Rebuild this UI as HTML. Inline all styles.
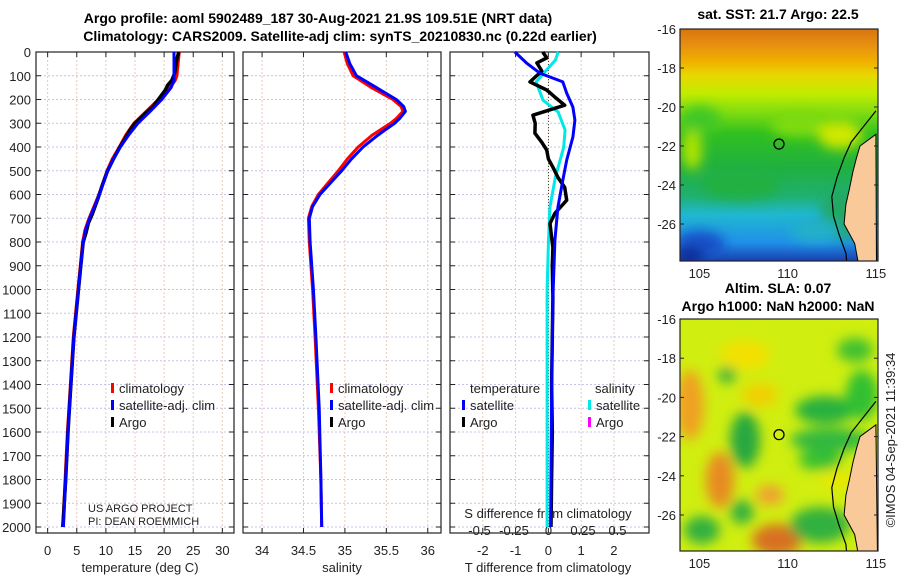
<!DOCTYPE html>
<html><head><meta charset="utf-8"><style>
body{margin:0;background:#fff}
svg{display:block;font-family:"Liberation Sans","DejaVu Sans",sans-serif}
</style></head><body>
<svg id="c" width="900" height="580" viewBox="0 0 900 580">
<defs>
<filter id="bl" x="-50%" y="-50%" width="200%" height="200%"><feGaussianBlur stdDeviation="6"/></filter>
<clipPath id="cm1"><rect x="680" y="29" width="198" height="232"/></clipPath>
<clipPath id="cm2"><rect x="680" y="319" width="198" height="232"/></clipPath>
<linearGradient id="sst" x1="0" y1="0" x2="0" y2="1">
<stop offset="0" stop-color="#d87410"/><stop offset="0.07" stop-color="#e89010"/><stop offset="0.14" stop-color="#f0b000"/><stop offset="0.2" stop-color="#e8d800"/><stop offset="0.28" stop-color="#c0ec00"/><stop offset="0.36" stop-color="#80dc10"/><stop offset="0.45" stop-color="#30c020"/><stop offset="0.6" stop-color="#20b040"/><stop offset="0.72" stop-color="#20b070"/><stop offset="0.8" stop-color="#20b8d0"/><stop offset="0.92" stop-color="#2090e8"/><stop offset="1" stop-color="#1840b0"/>
</linearGradient>
</defs>
<text x="318" y="23" text-anchor="middle" font-size="14" font-weight="bold">Argo profile: aoml 5902489_187 30-Aug-2021 21.9S 109.51E (NRT data)</text>
<text x="340" y="41" text-anchor="middle" font-size="14" font-weight="bold">Climatology: CARS2009. Satellite-adj clim: synTS_20210830.nc (0.22d earlier)</text>
<g id="g"></g>
</svg>
<script>
// ---- data ----
const depthT = [0,50,100,120,150,200,250,300,350,400,450,500,600,700,750,800,900,1000,1200,1400,1600,1800,2000];
const tempClim = [22.6,22.4,22.2,21.9,21.0,19.0,16.9,14.8,13.4,12.3,11.1,10.2,8.8,7.1,6.4,6.0,5.6,5.2,4.4,3.9,3.4,3.0,2.6];
const tempSat  = [21.7,21.7,21.7,21.7,21.2,19.6,17.6,15.5,13.9,12.5,11.3,10.3,8.9,7.2,6.5,6.1,5.7,5.3,4.5,4.0,3.5,3.1,2.7];
const depthA = [0,30,60,90,120,140,160,200,230,260,280,300,330,360,400,450,500,560,620,680,720,760,800,900,1000,1200,1400,1600,1800,2000];
const tempArgo = [22.5,22.2,22.0,21.8,21.3,20.6,20.2,19.0,18.1,16.7,15.9,15.0,14.1,13.4,12.4,11.3,10.3,9.4,8.6,7.7,7.0,6.6,6.1,5.7,5.3,4.5,4.0,3.5,3.1,2.6];
const depthS = [0,50,100,150,200,230,250,280,300,350,400,450,500,550,600,650,700,800,1000,1200,1500,1800,2000];
const salClim = [34.99,35.03,35.1,35.32,35.58,35.68,35.7,35.62,35.55,35.33,35.16,35.03,34.92,34.8,34.68,34.6,34.56,34.57,34.61,34.64,34.68,34.71,34.72];
const salSat  = [35.01,35.06,35.14,35.38,35.62,35.71,35.73,35.66,35.6,35.4,35.22,35.08,34.96,34.83,34.7,34.61,34.57,34.58,34.62,34.65,34.69,34.71,34.72];
const depthD = [0,46,89,126,173,232,287,358,455,540,654,793,1034,1300,1600,2000];
const dTsat = [-1.02,-0.67,-0.26,0.44,0.56,0.75,0.81,0.75,0.56,0.44,0.29,0.2,0.14,0.11,0.09,0.07];
const depthDA = [0,25,46,80,126,160,190,224,266,300,342,380,413,450,485,530,570,624,679,722,780,823,900,1034,1200,1400,1600,1800,2000];
const dTargo = [-0.17,-0.05,-0.35,-0.2,-0.56,-0.05,0.2,0.5,-0.47,-0.4,-0.41,-0.2,-0.05,0.0,0.14,0.3,0.5,0.56,0.2,0.05,0.1,0.14,0.12,0.14,0.12,0.1,0.12,0.1,0.08];
const depthDS = [0,34,80,126,203,253,329,401,527,654,793,1000,1500,2000];
const dSsat = [0.07,0.05,-0.02,-0.09,-0.04,0.07,0.12,0.11,0.05,0.01,0.0,-0.01,-0.01,-0.01];
const depthTicks = [0,100,200,300,400,500,600,700,800,900,1000,1100,1200,1300,1400,1500,1600,1700,1800,1900,2000];
const tTicks = [0,5,10,15,20,25,30];
const sTicks = [34,34.5,35,35.5,36];
const sTickLabels = ["34","34.5","35","35.5","36"];
const dTTicks = [-2,-1,0,1,2];
const dSTicks = [-0.5,-0.25,0,0.25,0.5];
const lonTicks = [105,110,115];
const latTicks = [-16,-18,-20,-22,-24,-26];

const NS="http://www.w3.org/2000/svg";
const G=document.getElementById('g');
function el(t,a,p){const e=document.createElementNS(NS,t);for(const k in a)e.setAttribute(k,a[k]);(p||G).appendChild(e);return e;}
function tx(x,y,s,a,p){const e=el('text',Object.assign({x:x,y:y,'font-size':13,fill:'#222'},a||{}),p);e.textContent=s;return e;}
const Y=d=>52+0.2375*d, YB=533;
const P=[{x0:36,x1:234,a:-2,b:32},{x0:243,x1:441,a:33.77,b:36.16},{x0:450,x1:649,a:-3,b:3.07}];
const sx=(p,v)=>p.x0+(v-p.a)/(p.b-p.a)*(p.x1-p.x0);
const xDS=v=>548.5+138*v;

function panel(p,ticks,xf,name){
  const g=el('g',{});
  
  
  depthTicks.forEach(d=>{el('line',{x1:p.x0,x2:p.x1,y1:Y(d),y2:Y(d),stroke:'#c4c4e8','stroke-width':1,'stroke-dasharray':'2,2'},g);
    el('line',{x1:p.x0,x2:p.x0+5,y1:Y(d),y2:Y(d),stroke:'#222'},g);el('line',{x1:p.x1-5,x2:p.x1,y1:Y(d),y2:Y(d),stroke:'#222'},g);});
  ticks.forEach(v=>{const x=xf(v);el('line',{x1:x,x2:x,y1:52,y2:YB,stroke:'#e8c8b8','stroke-width':1,'stroke-dasharray':'2,2'},g);
    el('line',{x1:x,x2:x,y1:52,y2:57,stroke:'#222'},g);el('line',{x1:x,x2:x,y1:YB-5,y2:YB,stroke:'#222'},g);});
  el('rect',{x:p.x0,y:52,width:p.x1-p.x0,height:YB-52,fill:'none',stroke:'#222','stroke-width':1.2},g);
  return g;
}
function line(xs,ds,f,col,w,name){
  const pts=xs.map((v,i)=>f(v).toFixed(1)+','+Y(ds[i]).toFixed(1)).join(' ');
  const e=el('polyline',{points:pts,fill:'none',stroke:col,'stroke-width':w,'stroke-linejoin':'round'});
  
  
}
const p1=P[0],p2=P[1],p3=P[2];
panel(p1,tTicks,v=>sx(p1,v),'temperature-panel');
depthTicks.forEach(d=>tx(31,Y(d)+5,String(d),{'text-anchor':'end'}));
tTicks.forEach(v=>tx(sx(p1,v),555,String(v),{'text-anchor':'middle'}));
tx(140,572,'temperature (deg C)',{'text-anchor':'middle'});
line(tempClim,depthT,v=>sx(p1,v),'#ff0000',3,'temp-climatology-line');
line(tempArgo,depthA,v=>sx(p1,v),'#000',3.5,'temp-argo-line');
line(tempSat,depthT,v=>sx(p1,v),'#0000ff',3,'temp-satellite-line');
panel(p2,sTicks,v=>sx(p2,v),'salinity-panel');
sTicks.forEach((v,i)=>tx(sx(p2,v),555,sTickLabels[i],{'text-anchor':'middle'}));
tx(342,572,'salinity',{'text-anchor':'middle'});
line(salClim,depthS,v=>sx(p2,v),'#ff0000',3,'sal-climatology-line');
line(salSat,depthS,v=>sx(p2,v),'#0000ff',3,'sal-satellite-line');
panel(p3,dTTicks,v=>sx(p3,v),'difference-panel');
el('line',{x1:548.5,x2:548.5,y1:52,y2:YB,stroke:'#444','stroke-dasharray':'1,2'});
dTTicks.forEach(v=>tx(sx(p3,v),555,String(v),{'text-anchor':'middle'}));
tx(548,572,'T difference from climatology',{'text-anchor':'middle'});
dSTicks.forEach(v=>tx(xDS(v),535,String(v),{'text-anchor':'middle'}));
tx(548,518,'S difference from climatology',{'text-anchor':'middle'});
line(dSsat,depthDS,xDS,'#00e8e8',3,'sal-diff-satellite-line');
line(dTargo,depthDA,v=>sx(p3,v),'#000',3.5,'temp-diff-argo-line');
line(dTsat,depthD,v=>sx(p3,v),'#0000ff',3,'temp-diff-satellite-line');
function leg(x,y,col,s,name){const g=el('g',{});
  el('rect',{x:x,y:y-9,width:3,height:10,fill:col},g);tx(x+8,y+1,s,{},g);}
leg(111,392,'#ff0000','climatology','legend-climatology');leg(111,409,'#0000ff','satellite-adj. clim','legend-satellite-adj');leg(111,426,'#000','Argo','legend-argo');
leg(330,392,'#ff0000','climatology','legend-sal-climatology');leg(330,409,'#0000ff','satellite-adj. clim','legend-sal-satellite-adj');leg(330,426,'#000','Argo','legend-sal-argo');
tx(470,393,'temperature');tx(595,393,'salinity');
leg(462,409,'#0000ff','satellite','legend-diff-t-satellite');leg(462,426,'#000','Argo','legend-diff-t-argo');
leg(588,409,'#00e8e8','satellite','legend-diff-s-satellite');leg(588,426,'#ff00ff','Argo','legend-diff-s-argo');
tx(88,512,'US ARGO PROJECT',{'font-size':11});tx(88,525,'PI: DEAN ROEMMICH',{'font-size':11});

const MX=lon=>680+(lon-103.9)*17.65;
function map(clip,name){
  const g=el('g',{'clip-path':'url(#'+clip+')'});return g;}
const MY1=lat=>29+(-16-lat)*19.5, MY2=lat=>319+(-16-lat)*19.6;
const m1=map('cm1','sst-map');
el('rect',{x:680,y:29,width:198,height:232,fill:'url(#sst)'},m1);
const b1=el('g',{filter:'url(#bl)'},m1);
[[700,120,20,14,'#40c828'],[692,150,10,20,'#b0e400'],[800,125,30,12,'#80dc10'],[840,135,22,14,'#d0e800'],[740,185,40,14,'#20b040'],[700,245,25,14,'#1850c8'],[690,256,15,8,'#102890'],[840,215,20,25,'#20a860'],[815,230,25,12,'#20b0c8']].forEach(c=>el('ellipse',{cx:c[0],cy:c[1],rx:c[2],ry:c[3],fill:c[4]},b1));
const m2=map('cm2','sla-map');
el('rect',{x:680,y:319,width:198,height:232,fill:'#d0ee10'},m2);
const b2=el('g',{filter:'url(#bl)'},m2);
[[690,405,14,35,'#f0a020'],[720,480,14,28,'#e88a20'],[777,540,25,16,'#d87020'],[770,495,14,10,'#f0a030'],[745,355,25,14,'#f4e000'],[760,395,18,12,'#f0d000'],[745,440,15,28,'#28a840'],[727,375,9,8,'#30b040'],[825,410,30,14,'#28b040'],[820,460,22,10,'#38c030'],[838,480,18,10,'#e8e800'],[820,525,30,18,'#30b040'],[862,395,16,25,'#30c030'],[702,530,18,14,'#30b040'],[742,512,12,12,'#30b040'],[855,350,18,12,'#40c030'],[830,440,40,12,'#30b840']].forEach(c=>el('ellipse',{cx:c[0],cy:c[1],rx:c[2],ry:c[3],fill:c[4]},b2));
const landLon=[115,114.1,113.9,113.7,113.5,113.3,113.2,113.5,113.8,114.0,115];
const landLat=[-21.4,-22.0,-22.6,-23.3,-24.2,-25.0,-26.0,-26.5,-27.0,-28.0,-28.0];
[[MY1,m1],[MY2,m2]].forEach(([my,m])=>{
  const pts=landLon.map((v,i)=>MX(v).toFixed(1)+','+my(landLat[i]).toFixed(1)).join(' ');
  el('polygon',{points:pts+' 878,600',fill:'#f9c99a',stroke:'#000','stroke-width':1},m);
  el('polyline',{points:[[115,-20.2],[114.3,-21],[113.6,-21.8],[113.2,-22.6],[112.8,-23.6],[112.5,-24.6],[112.6,-25.6],[112.9,-26.5],[113.3,-27.5],[113.4,-28.5]].map(q=>MX(q[0])+','+my(q[1])).join(' '),fill:'none',stroke:'#000','stroke-width':1.2},m);
});
function mapAxes(y0,my,circName){
  el('rect',{x:680,y:y0,width:198,height:232,fill:'none',stroke:'#222','stroke-width':1.2});
  latTicks.forEach(l=>{tx(676,my(l)+5,String(l),{'text-anchor':'end'});el('line',{x1:680,x2:684,y1:my(l),y2:my(l),stroke:'#222'});el('line',{x1:874,x2:878,y1:my(l),y2:my(l),stroke:'#222'});});
  lonTicks.forEach(l=>{tx(MX(l),y0+249,String(l),{'text-anchor':'middle'});});
  const c=el('circle',{cx:MX(109.51),cy:my(-21.9),r:5,fill:'none',stroke:'#000','stroke-width':1.3});
  
  
}
mapAxes(29,MY1,'argo-location-marker-sst');
mapAxes(319,MY2,'argo-location-marker-sla');
tx(778,19,'sat. SST: 21.7 Argo: 22.5',{'text-anchor':'middle','font-weight':'bold','font-size':14,fill:'#000'});
tx(778,293,'Altim. SLA: 0.07',{'text-anchor':'middle','font-weight':'bold','font-size':14,fill:'#000'});
tx(778,311,'Argo h1000: NaN h2000: NaN',{'text-anchor':'middle','font-weight':'bold','font-size':14,fill:'#000'});
tx(0,0,'©IMOS 04-Sep-2021 11:39:34',{'text-anchor':'middle','transform':'translate(895,440) rotate(-90)'});
</script>
</body></html>
